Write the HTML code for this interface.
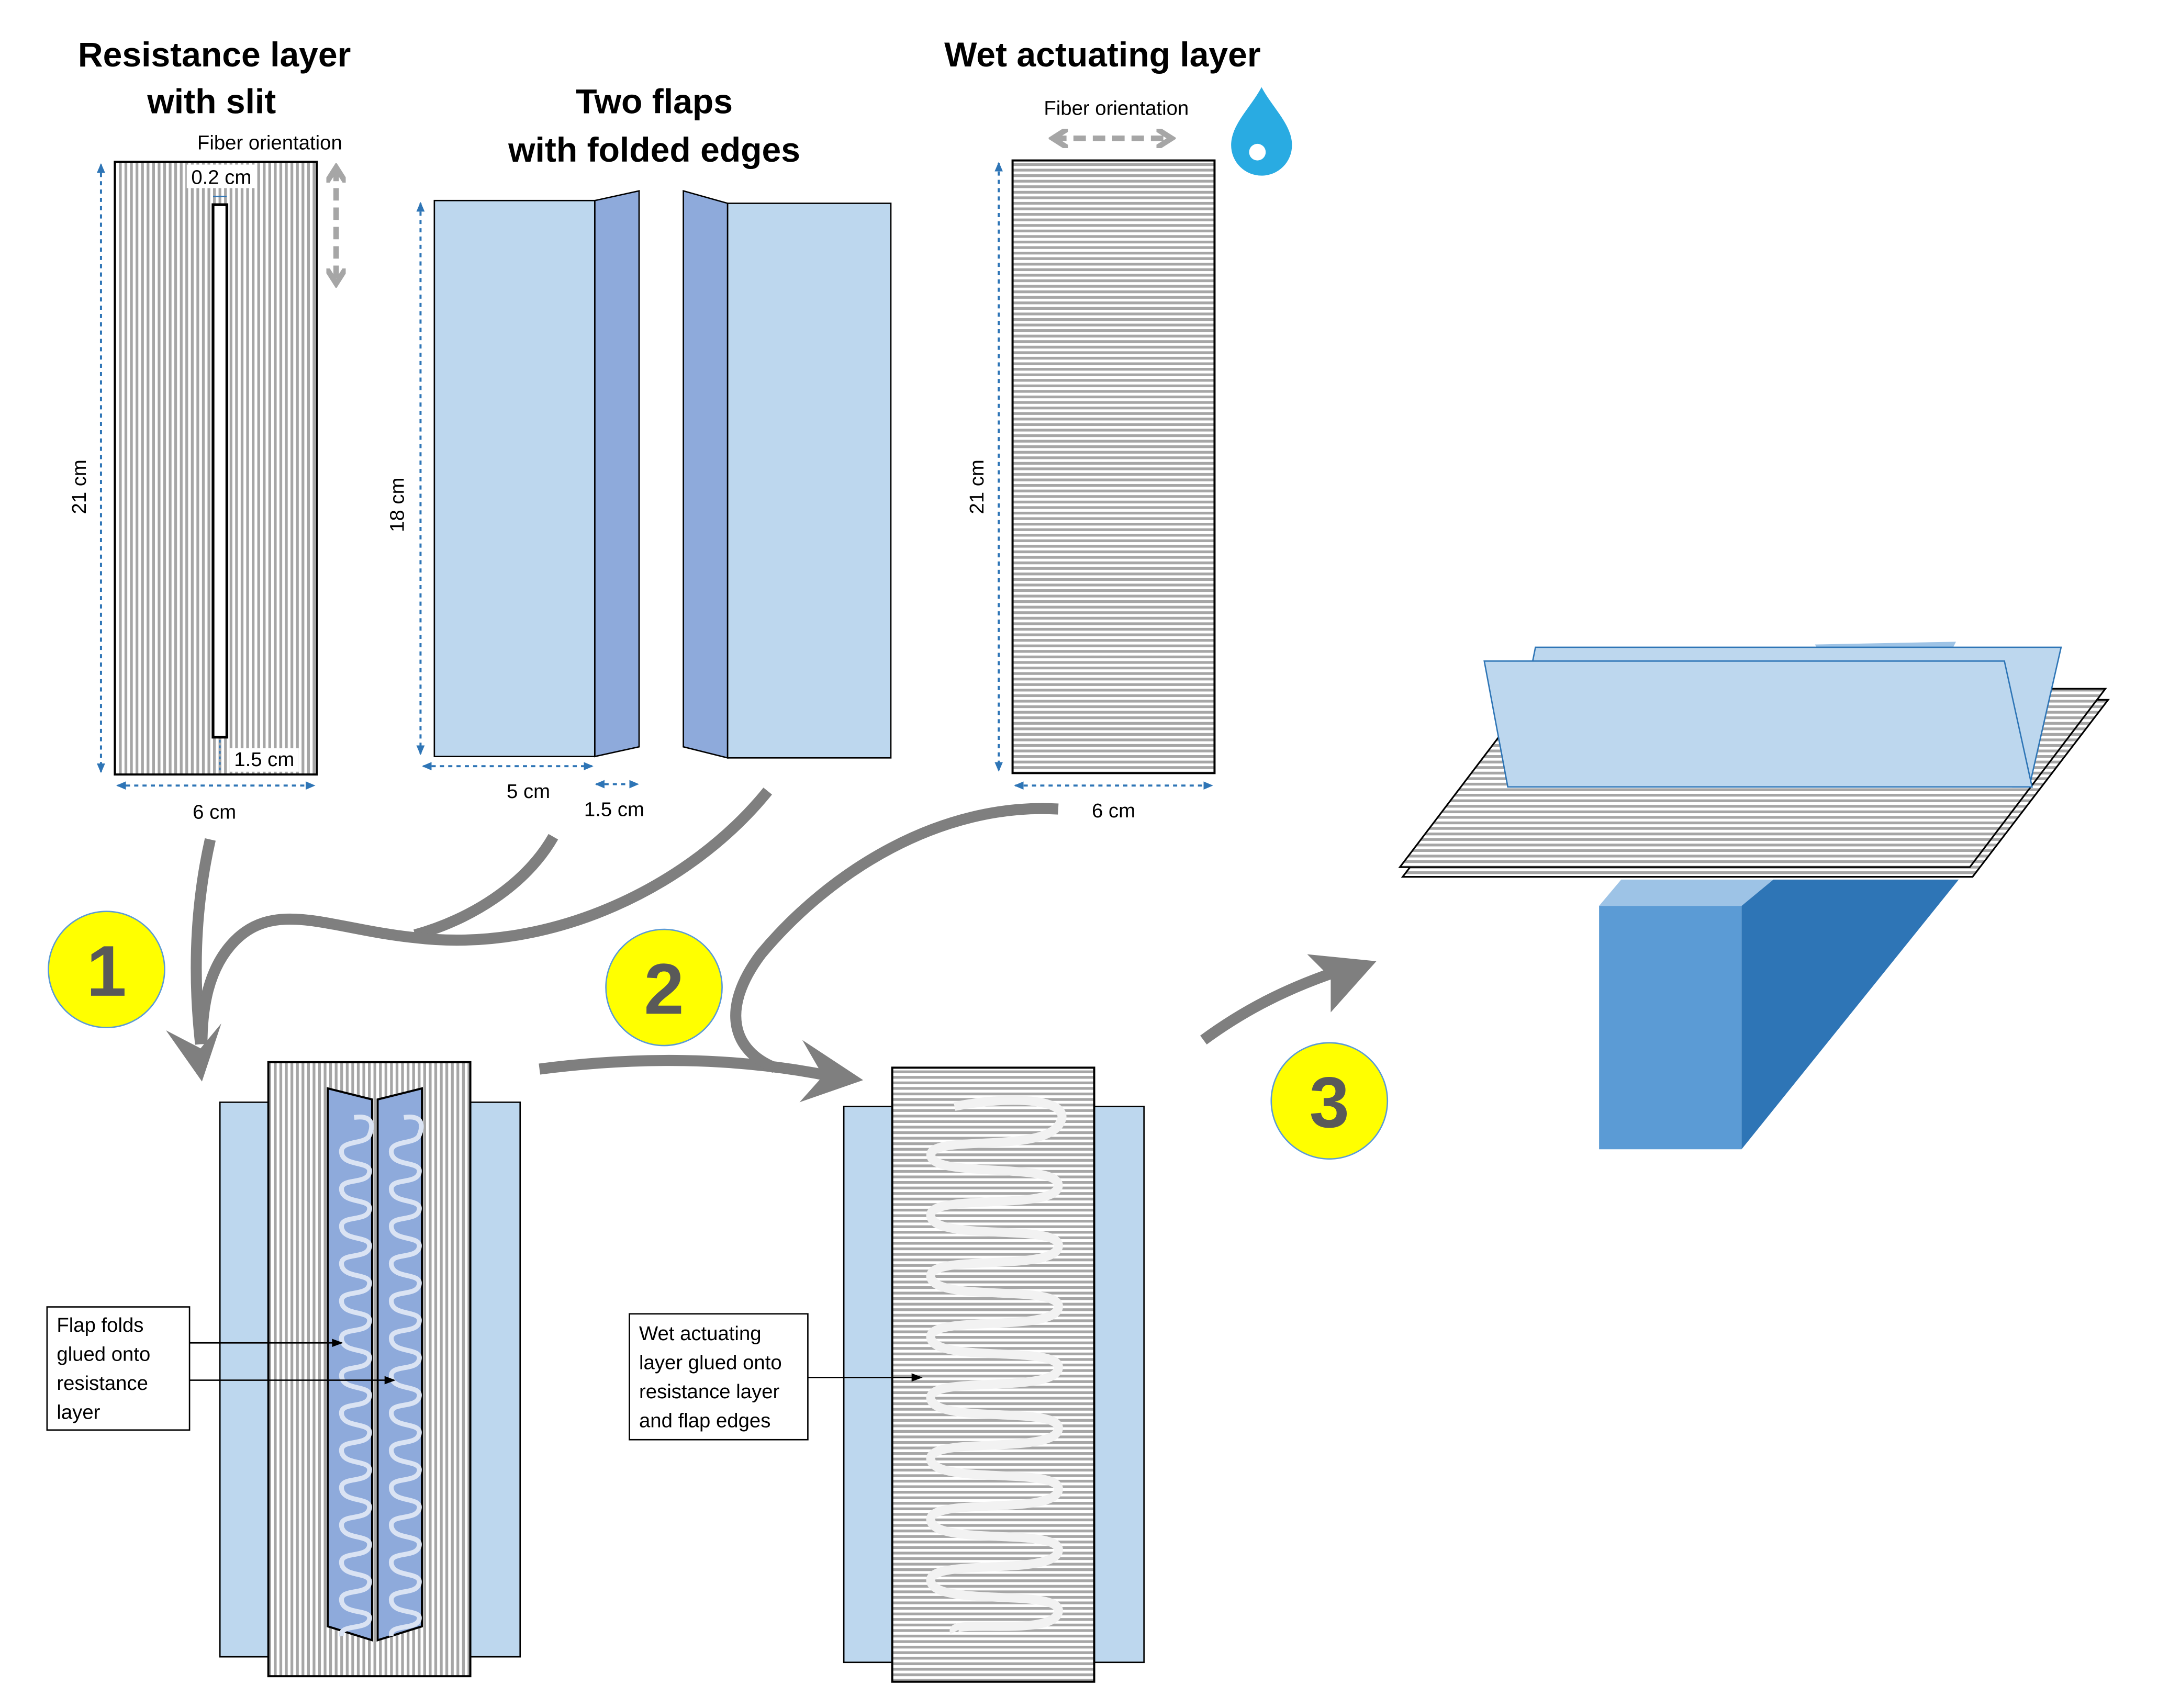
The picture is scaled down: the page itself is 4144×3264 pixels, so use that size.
<!DOCTYPE html>
<html><head><meta charset="utf-8"><style>
html,body{margin:0;padding:0;background:#fff}
svg{display:block}
text{font-family:"Liberation Sans","DejaVu Sans",sans-serif}
</style></head><body>
<svg width="4144" height="3264" viewBox="0 0 1568 1235" xmlns="http://www.w3.org/2000/svg">
<defs>
<pattern id="vs" width="4" height="10" patternUnits="userSpaceOnUse"><rect width="4" height="10" fill="#fff"/><rect x="2" width="2" height="10" fill="#a6a6a6"/></pattern>
<pattern id="hs" width="10" height="4" patternUnits="userSpaceOnUse"><rect width="10" height="4" fill="#fff"/><rect y="2" width="10" height="2" fill="#a6a6a6"/></pattern>
<marker id="ah" markerWidth="8" markerHeight="8" refX="7" refY="4" orient="auto" markerUnits="userSpaceOnUse"><path d="M0,1 L8,4 L0,7z" fill="#000"/></marker>
<marker id="bh" markerWidth="8" markerHeight="8" refX="6" refY="4" orient="auto-start-reverse" markerUnits="userSpaceOnUse"><path d="M0,1 L7,4 L0,7z" fill="#2e75b6"/></marker>
<marker id="gh" markerWidth="14" markerHeight="14" refX="10" refY="7" orient="auto-start-reverse" markerUnits="userSpaceOnUse"><path d="M0,0 L11,7 L0,14" fill="none" stroke="#a6a6a6" stroke-width="4"/></marker>
</defs>

<g font-weight="bold" font-size="25" text-anchor="middle" fill="#000">
<text x="155" y="48">Resistance layer</text>
<text x="153" y="82">with slit</text>
<text x="473" y="82">Two flaps</text>
<text x="473" y="117">with folded edges</text>
<text x="797" y="48">Wet actuating layer</text>
</g>

<rect x="83" y="117" width="146" height="443" fill="url(#vs)" stroke="#000" stroke-width="1.5"/>
<rect x="154" y="148" width="10" height="385" fill="#fff" stroke="#000" stroke-width="2"/>
<text x="195" y="108" font-size="14.5" text-anchor="middle">Fiber orientation</text>
<line x1="243" y1="122" x2="243" y2="204" stroke="#a6a6a6" stroke-width="4" stroke-dasharray="9,5" marker-start="url(#gh)" marker-end="url(#gh)"/>
<rect x="135" y="119" width="50" height="17" fill="#fff"/>
<text x="160" y="133" font-size="14.5" text-anchor="middle">0.2 cm</text>
<line x1="154" y1="142" x2="164" y2="142" stroke="#2e75b6" stroke-width="1"/>
<line x1="159" y1="535" x2="159" y2="558" stroke="#2e75b6" stroke-width="1" stroke-dasharray="2,2"/>
<rect x="166" y="541" width="50" height="17" fill="#fff"/>
<text x="191" y="554" font-size="14.5" text-anchor="middle">1.5 cm</text>
<line x1="73" y1="119" x2="73" y2="558" stroke="#2e75b6" stroke-width="1.5" stroke-dasharray="3,3" marker-start="url(#bh)" marker-end="url(#bh)"/>
<text transform="translate(62,352) rotate(-90)" font-size="14.5" text-anchor="middle">21 cm</text>
<line x1="85" y1="568" x2="227" y2="568" stroke="#2e75b6" stroke-width="1.5" stroke-dasharray="3,3" marker-start="url(#bh)" marker-end="url(#bh)"/>
<text x="155" y="592" font-size="14.5" text-anchor="middle">6 cm</text>

<rect x="314" y="145" width="116" height="402" fill="#bdd7ee" stroke="#000" stroke-width="1"/>
<polygon points="430,145 462,138 462,540 430,547" fill="#8eaadb" stroke="#000" stroke-width="1"/>
<polygon points="494,138 526,147 526,548 494,540" fill="#8eaadb" stroke="#000" stroke-width="1"/>
<rect x="526" y="147" width="118" height="401" fill="#bdd7ee" stroke="#000" stroke-width="1"/>
<line x1="304" y1="147" x2="304" y2="545" stroke="#2e75b6" stroke-width="1.5" stroke-dasharray="3,3" marker-start="url(#bh)" marker-end="url(#bh)"/>
<text transform="translate(292,365) rotate(-90)" font-size="14.5" text-anchor="middle">18 cm</text>
<line x1="306" y1="554" x2="428" y2="554" stroke="#2e75b6" stroke-width="1.5" stroke-dasharray="3,3" marker-start="url(#bh)" marker-end="url(#bh)"/>
<text x="382" y="577" font-size="14.5" text-anchor="middle">5 cm</text>
<line x1="431" y1="567" x2="461" y2="567" stroke="#2e75b6" stroke-width="1.5" stroke-dasharray="3,3" marker-start="url(#bh)" marker-end="url(#bh)"/>
<text x="444" y="590" font-size="14.5" text-anchor="middle">1.5 cm</text>

<rect x="732" y="116" width="146" height="443" fill="url(#hs)" stroke="#000" stroke-width="1.5"/>
<text x="807" y="83" font-size="14.5" text-anchor="middle">Fiber orientation</text>
<line x1="762" y1="100" x2="846" y2="100" stroke="#a6a6a6" stroke-width="4" stroke-dasharray="9,5" marker-start="url(#gh)" marker-end="url(#gh)"/>
<path d="M912,63 C920,78 934,90 934,105 A22,22 0 0 1 890,105 C890,90 904,78 912,63z" fill="#29abe2"/>
<circle cx="909" cy="110" r="6" fill="#fff"/>
<line x1="722" y1="118" x2="722" y2="557" stroke="#2e75b6" stroke-width="1.5" stroke-dasharray="3,3" marker-start="url(#bh)" marker-end="url(#bh)"/>
<text transform="translate(711,352) rotate(-90)" font-size="14.5" text-anchor="middle">21 cm</text>
<line x1="734" y1="568" x2="876" y2="568" stroke="#2e75b6" stroke-width="1.5" stroke-dasharray="3,3" marker-start="url(#bh)" marker-end="url(#bh)"/>
<text x="805" y="591" font-size="14.5" text-anchor="middle">6 cm</text>

<g fill="none" stroke="#7f7f7f" stroke-width="8" stroke-linecap="butt">
<path d="M152,607 C140,660 140,710 145,755"/>
<path d="M400,605 C380,640 340,665 300,676"/>
<path d="M555,572 C500,640 400,690 300,678 C240,672 200,650 170,680 C150,700 146,730 146,755"/>
<path d="M390,773 C460,764 530,764 600,778"/>
<path d="M765,585 C680,580 600,630 550,690 C520,730 530,760 560,772"/>
<path d="M870,752 C900,730 930,715 965,703"/>
</g>
<polygon points="120,745 146,782 160,740 145,758" fill="#7f7f7f"/>
<polygon points="580,752 624,781 578,797 595,778" fill="#7f7f7f"/>
<polygon points="945,690 995,695 962,732 962,707" fill="#7f7f7f"/>

<g font-weight="bold" font-size="52" text-anchor="middle" fill="#595959">
<circle cx="77" cy="701" r="42" fill="#ffff00" stroke="#5b9bd5" stroke-width="1"/>
<text x="77" y="720">1</text>
<circle cx="480" cy="714" r="42" fill="#ffff00" stroke="#5b9bd5" stroke-width="1"/>
<text x="480" y="733">2</text>
<circle cx="961" cy="796" r="42" fill="#ffff00" stroke="#5b9bd5" stroke-width="1"/>
<text x="961" y="815">3</text>
</g>

<rect x="159" y="797" width="35" height="401" fill="#bdd7ee" stroke="#000" stroke-width="1"/>
<rect x="340" y="797" width="36" height="401" fill="#bdd7ee" stroke="#000" stroke-width="1"/>
<rect x="194" y="768" width="146" height="444" fill="url(#vs)" stroke="#000" stroke-width="1.5"/>
<polygon points="237,787 269,795 269,1186 237,1176" fill="#8eaadb" stroke="#000" stroke-width="1.5"/>
<polygon points="273,795 305,787 305,1176 273,1186" fill="#8eaadb" stroke="#000" stroke-width="1.5"/>
<g fill="none" stroke="#dae3f3" stroke-width="3.5">
<path d="M256,808 c14,-2 14,6 11,13 s-22,3 -20,13 s22,5 20,14 s-22,3 -20,13 s22,5 20,14 s-22,3 -20,13 s22,5 20,14 s-22,3 -20,13 s22,5 20,14 s-22,3 -20,13 s22,5 20,14 s-22,3 -20,13 s22,5 20,14 s-22,3 -20,13 s22,5 20,14 s-22,3 -20,13 s22,5 20,14 s-22,3 -20,13 s22,5 20,14 s-22,3 -20,13 s22,5 20,14 s-22,3 -20,13 s22,5 20,14 s-22,3 -20,13 s22,5 20,14 s-22,3 -20,13 s22,5 20,13 s-22,3 -20,12"/>
<path d="M292,808 c14,-2 14,6 11,13 s-22,3 -20,13 s22,5 20,14 s-22,3 -20,13 s22,5 20,14 s-22,3 -20,13 s22,5 20,14 s-22,3 -20,13 s22,5 20,14 s-22,3 -20,13 s22,5 20,14 s-22,3 -20,13 s22,5 20,14 s-22,3 -20,13 s22,5 20,14 s-22,3 -20,13 s22,5 20,14 s-22,3 -20,13 s22,5 20,14 s-22,3 -20,13 s22,5 20,14 s-22,3 -20,13 s22,5 20,14 s-22,3 -20,13 s22,5 20,14 s-22,3 -20,13 s22,5 20,13 s-22,3 -20,12"/>
</g>
<rect x="34" y="945" width="103" height="89" fill="#fff" stroke="#000" stroke-width="1"/>
<g font-size="14.5"><text x="41" y="963">Flap folds</text><text x="41" y="984">glued onto</text><text x="41" y="1005">resistance</text><text x="41" y="1026">layer</text></g>
<line x1="137" y1="971" x2="247" y2="971" stroke="#000" stroke-width="1" marker-end="url(#ah)"/>
<line x1="137" y1="998" x2="285" y2="998" stroke="#000" stroke-width="1" marker-end="url(#ah)"/>

<rect x="610" y="800" width="35" height="402" fill="#bdd7ee" stroke="#000" stroke-width="1"/>
<rect x="791" y="800" width="36" height="402" fill="#bdd7ee" stroke="#000" stroke-width="1"/>
<rect x="645" y="772" width="146" height="444" fill="url(#hs)" stroke="#000" stroke-width="1.5"/>
<path d="M690,800 c40,-8 90,-6 75,14 s-95,6 -92,22 s95,4 92,22 s-97,4 -92,22 s97,4 92,22 s-97,4 -92,22 s97,4 92,22 s-97,4 -92,22 s97,4 92,22 s-97,4 -92,22 s97,4 92,22 s-97,4 -92,22 s97,4 92,22 s-97,4 -92,22 s97,4 92,22 s-97,4 -92,22 s97,4 92,22 s-80,4 -75,14" fill="none" stroke="#f2f2f2" stroke-width="6.5"/>
<rect x="455" y="950" width="129" height="91" fill="#fff" stroke="#000" stroke-width="1"/>
<g font-size="14.5"><text x="462" y="969">Wet actuating</text><text x="462" y="990">layer glued onto</text><text x="462" y="1011">resistance layer</text><text x="462" y="1032">and flap edges</text></g>
<line x1="584" y1="996" x2="666" y2="996" stroke="#000" stroke-width="1" marker-end="url(#ah)"/>

<polygon points="1156,655 1172,636 1282,636 1259,655" fill="#9dc3e6"/>
<polygon points="1259,655 1282,636 1416,636 1259,831" fill="#2e75b6"/>
<rect x="1156" y="655" width="103" height="176" fill="#5b9bd5"/>
<polygon points="1014,634 1112,506 1524,506 1426,634" fill="url(#hs)" stroke="#000" stroke-width="1.2"/>
<polygon points="1012,627 1110,498 1522,498 1424,627" fill="url(#hs)" stroke="#000" stroke-width="1.2"/>
<polygon points="1312,466 1414,464 1410,472 1316,472" fill="#9dc3e6"/>
<polygon points="1110,468 1490,468 1467,569 1455,569 1446,478 1108,478" fill="#bdd7ee" stroke="#2e75b6" stroke-width="1"/>
<polygon points="1073,478 1449,478 1469,569 1090,569" fill="#bdd7ee" stroke="#2e75b6" stroke-width="1"/>
</svg>
</body></html>
